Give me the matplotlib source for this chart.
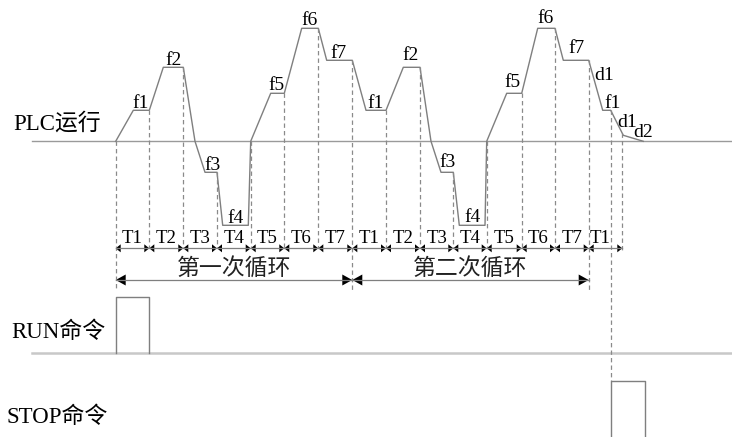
import numpy as np
import matplotlib
matplotlib.use("Agg")
import matplotlib.pyplot as plt

# frequency profile of the PLC run (time in px, frequency above baseline in px)
profile_t = [115.7, 133.3, 149.3, 163.3, 183.3, 195.0, 205.0, 217.0, 222.7, 248.3,
             250.7, 270.7, 284.3, 301.7, 318.3, 326.7, 352.3, 366.0, 386.0, 403.3,
             420.0, 431.0, 441.0, 453.3, 459.3, 485.0, 486.7, 506.7, 521.7, 537.7,
             555.0, 563.3, 588.7, 602.7, 610.7, 623.3, 643.3]
profile_f = [0, 31, 31, 74, 74, 0, -31, -31, -84, -84,
             0, 48, 48, 113, 113, 81, 81, 31, 31, 74,
             74, 0, -31, -31, -84, -84, 0, 48, 48, 113,
             113, 81, 81, 31, 31, 6, 0]

# segment boundaries (T1..T7, T1..T7, T1) plus the end of the last decel
bounds = [115.7, 149.3, 183.3, 217.0, 250.7, 284.3, 318.3, 352.3, 386.0,
          420.0, 453.3, 486.7, 521.7, 555.0, 588.7, 610.7, 622.3]
seg_names = ["T1", "T2", "T3", "T4", "T5", "T6", "T7",
             "T1", "T2", "T3", "T4", "T5", "T6", "T7", "T1"]
arrow_edges = bounds[:15] + [bounds[16]]
dash_bottom = [290, 248, 248, 248, 248, 248, 248, 290, 248,
               248, 248, 248, 248, 248, 290, 380.7, 253]

cycles = [(115.7, 352.3, "第一次循环"), (352.3, 588.7, "第二次循环")]

# level labels: text, x, baseline y
lvl_text = ["f1", "f2", "f3", "f4", "f5", "f6", "f7",
            "f1", "f2", "f3", "f4", "f5", "f6", "f7", "d1", "f1", "d1", "d2"]
lvl_x = [141, 174, 213, 236, 276, 310, 339,
         376, 411, 448, 473, 512, 546, 577, 604, 613, 627, 643]
lvl_y = [108, 65, 170, 223, 90, 25, 58,
         108, 60, 167, 222, 87, 23, 53, 80, 108, 127, 137]

run_pulse = (115.7, 149.3)
stop_pulse = (611.0, 645.0)

plc_base = 141.3
run_base = 352.7
run_top = 296.7
stop_top = 380.7

LINE = "#7f7f7f"
FONT = ["Liberation Serif", "Noto Sans CJK SC"]
CJK = ["Noto Sans CJK SC"]


def head(ax, x, y, direction, length, half):
    # filled triangle, tip at x, pointing to direction (+1 right, -1 left)
    xs = [x, x - direction * length, x - direction * length]
    ys = [y, y - half, y + half]
    ax.fill(xs, ys, color="black", lw=0)


def main():
    fig = plt.figure(figsize=(7.32, 4.37), dpi=100)
    ax = fig.add_axes([0, 0, 1, 1])
    ax.set_xlim(0, 732)
    ax.set_ylim(437, 0)
    ax.axis("off")

    # baselines
    ax.plot([31.7, 732], [plc_base, plc_base], color="#9a9a9a", lw=1.0)
    ax.plot([31.7, 732], [run_base, run_base], color="#c8c8c8", lw=1.8)

    # frequency curve
    py = plc_base - np.array(profile_f)
    ax.plot(profile_t, py, color=LINE, lw=1.0)

    # dashed guide lines
    for b, bot in zip(bounds, dash_bottom):
        top = np.interp(b, profile_t, py)
        ax.plot([b, b], [top, bot], color="#8a8a8a", lw=0.9,
                ls=(0, (3.5, 2.5)))

    # interval arrows
    ya = 248.3
    ax.plot([arrow_edges[0], arrow_edges[-1]], [ya, ya], color=LINE, lw=0.9)
    for a, b in zip(arrow_edges[:-1], arrow_edges[1:]):
        head(ax, a, ya, -1, 5, 4)
        head(ax, b, ya, 1, 5, 4)
    for i, name in enumerate(seg_names):
        xc = (bounds[i] + bounds[i + 1]) / 2
        ax.text(xc, 243, name, ha="center", va="baseline", fontsize=13.5,
                family=FONT)

    # cycle arrows
    yc = 280
    for a, b, label in cycles:
        ax.plot([a, b], [yc, yc], color=LINE, lw=0.9)
        head(ax, a, yc, -1, 10, 5.5)
        head(ax, b, yc, 1, 10, 5.5)
        ax.text((a + b) / 2, 268.5, label, ha="center", va="center",
                fontsize=16.5, family=CJK, fontweight="light", color="#222222")

    # level labels
    for t, x, y in zip(lvl_text, lvl_x, lvl_y):
        ax.text(x, y, t, ha="center", va="baseline", fontsize=14,
                family=FONT)

    # RUN / STOP pulses
    ax.plot([run_pulse[0], run_pulse[0], run_pulse[1], run_pulse[1]],
            [run_base, run_top, run_top, run_base], color=LINE, lw=1.0)
    ax.plot([stop_pulse[0], stop_pulse[0], stop_pulse[1], stop_pulse[1]],
            [440, stop_top, stop_top, 440], color=LINE, lw=1.0)

    # row names
    ax.text(13, 130, "PLC运行", ha="left", va="baseline", fontsize=16.5,
            family=FONT)
    ax.text(11.7, 338.3, "RUN命令", ha="left", va="baseline", fontsize=16.5,
            family=FONT)
    ax.text(6.7, 423.3, "STOP命令", ha="left", va="baseline", fontsize=16.5,
            family=FONT)

    fig.savefig("out.png", dpi=100)


if __name__ == "__main__":
    main()
